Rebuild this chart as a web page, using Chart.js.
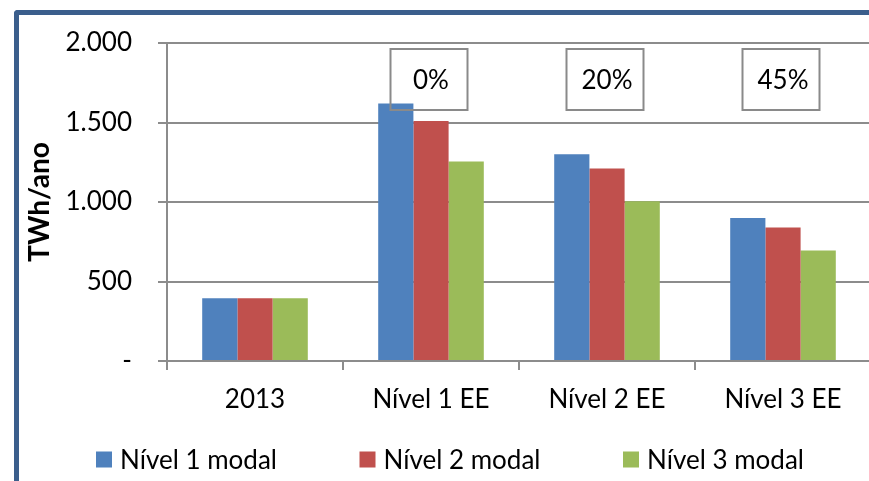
<!DOCTYPE html>
<html><head><meta charset="utf-8">
<script src="https://cdn.jsdelivr.net/npm/chart.js@4/dist/chart.umd.min.js"></script>
<style>
html,body{margin:0;padding:0;width:869px;height:481px;overflow:hidden;background:#fff;}
#frame{position:absolute;left:14px;top:10px;width:900px;height:520px;border-left:5px solid #3B5E8C;border-top:5px solid #3B5E8C;border-top-left-radius:4px;box-sizing:border-box;}
#wrap{position:absolute;left:0;top:0;width:872px;height:481px;}
</style></head><body>
<div id="frame"></div>
<div id="wrap"><canvas id="c"></canvas></div>
<script>
const categories = ['2013', 'Nível 1 EE', 'Nível 2 EE', 'Nível 3 EE'];
const seriesNames = ['Nível 1 modal', 'Nível 2 modal', 'Nível 3 modal'];
const nivel1Modal = [395, 1620, 1300, 900];
const nivel2Modal = [395, 1510, 1210, 840];
const nivel3Modal = [395, 1255, 1005, 695];
const yTicks = [0, 500, 1000, 1500, 2000];
const yTickLabels = ['-', '500', '1.000', '1.500', '2.000'];
const efficiencyCategories = ['Nível 1 EE', 'Nível 2 EE', 'Nível 3 EE'];
const efficiencyLabels = ['0%', '20%', '45%'];
const yTitle = 'TWh/ano';

const colors = ['#4F81BD', '#C0504D', '#9BBB59'];
const FONT = 'Lato';
const FS = 26;

const boxPlugin = {
  id: 'boxes',
  afterDatasetsDraw(chart) {
    const ctx = chart.ctx, xs = chart.scales.x, ys = chart.scales.y;
    ctx.save();
    ctx.strokeStyle = '#8a8a8a';
    ctx.lineWidth = 2;
    ctx.fillStyle = '#000';
    ctx.font = FS + 'px ' + FONT;
    ctx.textAlign = 'center';
    ctx.textBaseline = 'middle';
    efficiencyCategories.forEach((cat, i) => {
      const cx = xs.getPixelForValue(categories.indexOf(cat)) - 3;
      const top = ys.getPixelForValue(1960), bot = ys.getPixelForValue(1575);
      const w = 77;
      ctx.strokeRect(Math.round(cx - w / 2) + 0.5, Math.round(top), w, Math.round(bot - top));
      ctx.fillText(efficiencyLabels[i], cx + 3, (top + bot) / 2 + 1);
    });
    ctx.restore();
  }
};

const legendPlugin = {
  id: 'customLegend',
  afterDraw(chart) {
    const ctx = chart.ctx;
    ctx.save();
    ctx.font = FS + 'px ' + FONT;
    ctx.textAlign = 'left';
    ctx.textBaseline = 'alphabetic';
    ctx.fillStyle = '#000';
    const startX = 96, slot = 263.5, cy = 459.5, sq = 16;
    chart.data.datasets.forEach((ds, i) => {
      const x = startX + i * slot;
      ctx.fillStyle = ds.backgroundColor;
      ctx.fillRect(x, cy - sq / 2, sq, sq);
      ctx.fillStyle = '#000';
      ctx.fillText(ds.label, x + sq + 8, cy + 9);
    });
    ctx.restore();
  }
};

function draw() {
  new Chart(document.getElementById('c'), {
    type: 'bar',
    data: {
      labels: categories,
      datasets: [
        { label: seriesNames[0], data: nivel1Modal, backgroundColor: colors[0] },
        { label: seriesNames[1], data: nivel2Modal, backgroundColor: colors[1] },
        { label: seriesNames[2], data: nivel3Modal, backgroundColor: colors[2] }
      ]
    },
    options: {
      responsive: true,
      maintainAspectRatio: false,
      animation: false,
      devicePixelRatio: 1,
      layout: { padding: { left: 0, top: 43, right: 1, bottom: 60 } },
      datasets: { bar: { categoryPercentage: 0.6, barPercentage: 1.0, borderWidth: 0 } },
      plugins: { legend: { display: false }, tooltip: { enabled: false } },
      scales: {
        x: {
          grid: { display: true, drawOnChartArea: false, drawTicks: true, tickLength: 9, color: '#8c8c8c', lineWidth: 2, offset: true },
          border: { display: true, color: '#8c8c8c', width: 2 },
          ticks: { color: '#000', font: { family: FONT, size: FS }, padding: 14, maxRotation: 0, autoSkip: false },
          afterFit: (a) => { a.height = 60; }
        },
        y: {
          min: 0, max: 2000,
          afterBuildTicks: (s) => { s.ticks = yTicks.map(v => ({ value: v })); },
          grid: { color: '#8c8c8c', lineWidth: 2, drawTicks: true, tickLength: 9 },
          border: { display: true, color: '#8c8c8c', width: 2 },
          ticks: { color: '#000', font: { family: FONT, size: FS }, padding: 26,
            callback: (v) => yTickLabels[yTicks.indexOf(v)] },
          title: { display: true, text: yTitle, color: '#000', font: { family: FONT, size: 28, weight: 'bold' }, padding: { top: 23, bottom: 0 } },
          afterFit: (a) => { a.width = 167; }
        }
      }
    },
    plugins: [boxPlugin, legendPlugin]
  });
}
Promise.all([document.fonts.load(FS + 'px ' + FONT), document.fonts.load('bold 28px ' + FONT)]).then(draw, draw);
</script>
</body></html>
